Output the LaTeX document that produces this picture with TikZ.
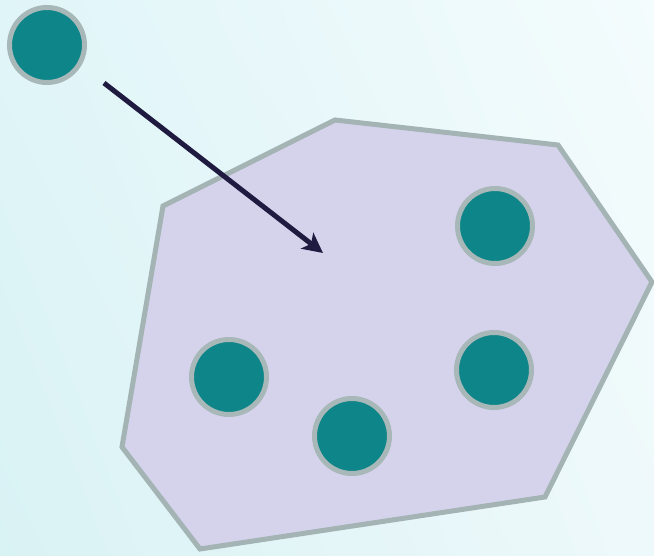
\documentclass[tikz,border=0pt]{standalone}
\usetikzlibrary{arrows.meta,shadings}
\definecolor{bgUL}{HTML}{E0F5F8}
\definecolor{bgLL}{HTML}{D9F2F4}
\definecolor{bgUR}{HTML}{F4FCFD}
\definecolor{bgLR}{HTML}{EEF9FB}
\definecolor{polyfill}{HTML}{D5D3EC}
\definecolor{polyline}{HTML}{A4B4B4}
\definecolor{teal}{HTML}{0E8588}
\definecolor{ring}{HTML}{A8B8B8}
\definecolor{arrowc}{HTML}{1F1B40}
\tikzset{
  dot/.style={circle, fill=teal, draw=ring, line width=5pt, minimum size=75pt, inner sep=0pt},
  region/.style={fill=polyfill, draw=polyline, line width=5pt, line join=miter},
  pointer/.style={draw=arrowc, line width=5pt, -{Stealth[length=20pt,width=20pt,inset=5pt]}}
}
\begin{document}
\begin{tikzpicture}[x=1pt,y=-1pt]
\useasboundingbox (0,0) rectangle (654,556);
\shade[upper left=bgUL, upper right=bgUR, lower left=bgLL, lower right=bgLR] (0,0) rectangle (654,556);
\draw[region] (163,206) -- (335,120) -- (558,145) -- (652,282) -- (545,497) -- (200,549) -- (122,447) -- cycle;
\node[dot] (s) at (47,45) {};
\node[dot] (a) at (495,226) {};
\node[dot] (b) at (229,377) {};
\node[dot] (c) at (352,436) {};
\node[dot] (d) at (494,370) {};
\coordinate (start) at (104,83);
\coordinate (target) at (323,253);
\draw[pointer] (start) -- (target);
\end{tikzpicture}
\end{document}
